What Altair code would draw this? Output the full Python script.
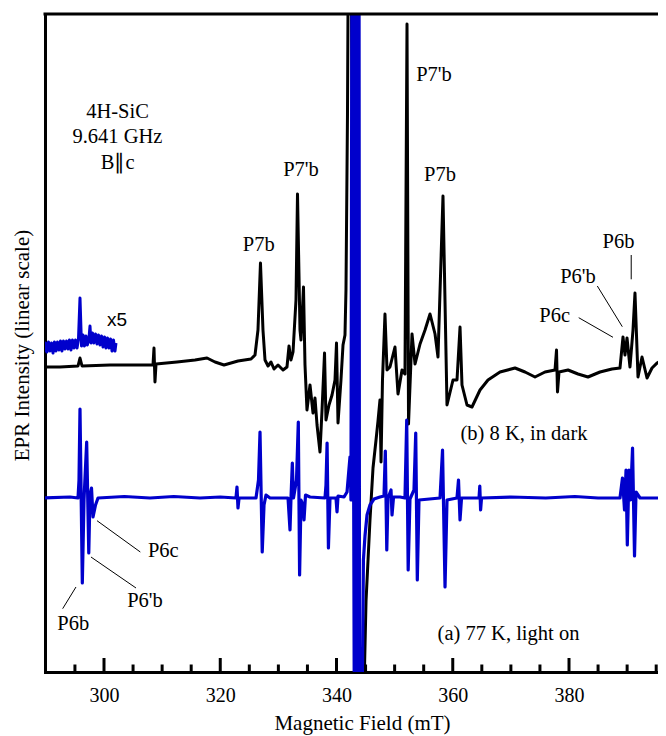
import altair as alt
import pandas as pd

W, H = 613, 658
X_DOMAIN = [289.85, 395.31]
Y_DOMAIN = [-17.4, 48.4]
BLUE = "#0000cc"
SERIF = "Liberation Serif"

# (b) 8 K, in dark  -- (field mT, intensity a.u.)
spectrum_b = [
    (289.68, 13.1), (292.43, 13.1), (295.53, 13.2), (295.87, 14.0), (296.22, 13.2),
    (301.03, 13.3), (306.19, 13.3), (308.43, 13.3), (308.60, 15.0), (308.77, 11.6),
    (308.95, 13.4), (312.56, 13.6), (315.66, 13.8), (317.72, 14.0), (319.10, 13.6),
    (320.65, 13.3), (323.05, 13.7), (325.29, 13.9), (325.98, 14.3), (326.49, 16.8),
    (326.92, 23.5), (327.35, 16.8), (327.70, 13.8), (328.22, 13.2), (328.73, 13.6),
    (329.25, 12.9), (329.94, 13.3), (330.80, 12.8), (331.48, 13.1), (331.83, 15.2),
    (332.17, 13.8), (332.52, 14.6), (333.03, 19.8), (333.29, 30.4), (333.72, 16.8),
    (333.89, 15.8), (334.32, 21.1), (334.58, 13.3), (334.92, 8.8), (335.44, 11.3),
    (335.96, 8.5), (336.30, 10.0), (336.65, 7.3), (337.16, 4.6), (337.51, 8.8),
    (337.94, 14.5), (338.19, 7.8), (338.71, 9.3), (339.23, 10.3), (339.74, 11.8),
    (340.00, 15.5), (340.26, 7.5), (340.77, 11.8), (341.12, 15.3), (341.46, 16.3),
    (341.63, 20.8), (341.89, 38.4), (342.24, 79.8), (343.70, -50.2), (344.73, -19.2),
    (345.08, -10.3), (345.76, -2.2), (346.28, 3.0), (346.80, 5.8), (347.14, 7.7),
    (347.48, 9.8), (347.66, 3.6), (347.91, 11.8), (348.34, 18.4), (348.69, 12.8),
    (349.20, 13.1), (350.06, 15.1), (350.58, 10.4), (351.27, 12.8), (351.78, 12.4),
    (352.13, 47.4), (352.39, 7.4), (352.99, 16.4), (353.51, 13.4), (354.37, 15.4),
    (355.23, 16.8), (356.09, 18.4), (356.95, 16.4), (357.46, 14.1), (358.32, 30.2),
    (359.01, 9.3), (360.04, 11.8), (360.73, 11.8), (361.25, 17.1), (361.59, 11.3),
    (362.45, 9.3), (363.31, 9.1), (364.69, 10.8), (366.06, 11.8), (368.13, 12.6),
    (370.71, 13.0), (372.43, 12.6), (374.15, 12.1), (375.87, 12.6), (377.59, 12.8),
    (377.85, 14.8), (378.02, 10.6), (378.28, 12.6), (379.83, 12.8), (381.55, 12.4),
    (383.27, 12.1), (385.33, 12.6), (387.40, 12.9), (388.77, 13.0), (389.29, 16.1),
    (389.63, 14.3), (389.98, 16.0), (390.49, 13.1), (391.01, 16.8), (391.35, 20.5),
    (391.87, 12.1), (392.56, 14.1), (393.42, 12.0), (394.28, 13.0), (395.14, 13.5),
    (396.00, 13.8),
]

# (a) 77 K, light on
spectrum_a = [
    (289.68, 0.0), (294.15, 0.1), (295.53, 0.0), (295.70, 1.8), (295.87, 8.9),
    (296.27, -8.5), (296.56, -0.2), (297.02, 5.6), (297.38, -5.5), (297.59, 0.3),
    (297.85, 1.0), (298.11, -1.9), (298.54, -0.7), (298.97, 0.0), (303.50, 0.15),
    (307.91, 0.0), (312.00, 0.15), (316.52, 0.0), (320.00, 0.1), (322.71, 0.0),
    (322.88, 1.1), (323.05, -1.0), (323.23, 0.0), (326.15, 0.0), (326.58, 1.8),
    (326.84, 6.6), (327.22, -5.4), (327.53, -0.7), (327.87, 0.3), (328.56, 0.0),
    (331.66, 0.0), (332.00, -3.2), (332.17, 0.0), (332.40, 3.5), (332.60, 0.0),
    (333.12, 1.8), (333.43, 7.6), (333.65, -7.7), (333.89, -0.2), (334.24, -0.7),
    (334.41, -2.2), (334.67, 0.3), (335.44, 0.1), (338.02, 0.0), (338.19, 1.3),
    (338.38, 5.5), (338.61, -5.0), (338.88, 0.0), (339.91, 0.0), (340.09, -1.4),
    (340.26, 0.2), (341.29, 0.1), (341.81, 0.6), (342.32, 4.1), (342.49, -0.2),
    (342.67, 60.0), (343.10, -30.0), (342.98, 60.0), (343.35, -30.0), (343.28, 60.0),
    (343.61, -30.0), (343.59, 60.0), (343.87, -30.0), (343.87, 60.0), (343.97, -30.0),
    (344.39, -30.0), (344.46, -18.2), (344.63, -6.2), (344.90, -3.8), (345.25, -1.7),
    (345.76, -0.7), (346.45, -0.1), (347.48, 0.1), (348.17, 0.2), (348.40, 4.7),
    (348.65, -5.2), (348.86, 0.0), (349.38, 0.8), (349.55, -1.7), (349.81, 0.1),
    (350.93, 0.1), (351.78, 0.0), (352.08, 7.8), (352.33, -7.2), (352.64, -0.1),
    (353.33, 0.8), (353.63, 6.5), (353.90, -8.2), (354.19, -0.2), (357.81, 0.0),
    (358.24, 4.8), (358.67, -8.9), (359.01, -0.2), (360.73, 0.0), (360.99, 1.8),
    (361.25, -2.2), (361.51, 0.0), (364.52, 0.0), (364.65, 1.2), (364.79, -1.2),
    (364.95, 0.0), (370.00, 0.1), (376.00, 0.0), (381.00, 0.15), (385.00, 0.0),
    (388.77, 0.0), (389.20, 2.0), (389.55, -1.2), (389.81, 2.8), (390.03, -4.7),
    (390.32, 2.8), (390.58, -0.2), (390.93, 5.0), (391.27, -5.8), (391.53, 0.6),
    (392.22, 0.0), (396.69, 0.0),
]

# (a) x5 enlargement of the low-field part
inset_x5 = [
    (289.68, 14.6), (289.94, 15.5), (290.19, 14.6), (290.45, 15.6), (290.71, 14.7),
    (290.97, 15.5), (291.23, 14.5), (291.48, 15.6), (291.74, 14.7), (292.00, 15.6),
    (292.26, 14.8), (292.52, 15.7), (292.77, 14.7), (293.03, 15.7), (293.29, 14.9),
    (293.55, 15.7), (293.81, 14.9), (294.06, 15.8), (294.32, 14.8), (294.58, 15.8),
    (294.84, 15.0), (295.10, 15.8), (295.36, 15.0), (295.61, 15.9), (295.87, 20.0),
    (296.13, 15.2), (296.39, 16.3), (296.63, 15.2), (296.90, 16.2), (297.14, 15.3),
    (297.42, 16.0), (297.59, 17.2), (297.76, 15.5), (298.02, 16.5), (298.26, 15.5),
    (298.54, 16.4), (298.80, 15.4), (299.05, 16.3), (299.31, 15.3), (299.57, 16.2),
    (299.83, 15.1), (300.09, 16.1), (300.34, 15.0), (300.60, 16.0), (300.86, 15.0),
    (301.12, 15.9), (301.38, 14.7), (301.63, 15.8), (301.89, 14.7), (302.06, 15.5),
]

# text annotations: (text, field, intensity)  -- centre / baseline
labels = [
    ("4H-SiC", 302.32, 37.97),
    ("9.641 GHz", 302.32, 35.47),
    ("B\u2225c", 302.36, 32.87),
    ("P7b", 326.62, 24.73),
    ("P7'b", 333.89, 32.23),
    ("P7'b", 356.77, 41.73),
    ("P7b", 357.81, 31.70),
    ("P6b", 388.52, 24.97),
    ("P6'b", 381.55, 21.47),
    ("P6c", 377.54, 17.63),
    ("P6c", 310.20, -5.93),
    ("P6'b", 307.05, -10.93),
    ("P6b", 294.72, -13.17),
    ("(b) 8 K, in dark", 372.26, 5.83),
    ("(a) 77 K, light on", 369.59, -14.17),
]
x5_label = [("x5", 300.52, 17.2)]

# leader lines: (field1, int1, field2, int2)
leaders = [
    (390.70, 24.30, 390.70, 21.87),
    (384.87, 21.20, 389.17, 17.13),
    (381.67, 18.03, 387.57, 16.07),
    (298.80, -2.27, 306.25, -5.40),
    (297.76, -5.90, 305.51, -9.00),
    (295.18, -8.90, 292.89, -11.07),
]

major_ticks = [300, 320, 340, 360, 380]
minor_ticks = [295, 305, 310, 315, 325, 330, 335, 345, 350, 355,
               365, 370, 375, 385, 390, 395]


def line_df(pairs):
    return pd.DataFrame({
        "i": list(range(len(pairs))),
        "field": [p[0] for p in pairs],
        "intensity": [p[1] for p in pairs],
    })


xs = alt.Scale(domain=X_DOMAIN, nice=False, zero=False)
ys = alt.Scale(domain=Y_DOMAIN, nice=False, zero=False)

x_axis = alt.Axis(
    values=major_ticks, ticks=False, grid=False, format="d",
    domainWidth=3, domainColor="black", domainCap="square",
    labelFont=SERIF, labelFontSize=20, labelColor="black", labelPadding=13,
    title="Magnetic Field (mT)", titleFont=SERIF, titleFontSize=21,
    titleFontWeight="normal", titleColor="black",
    titleX=317, titleY=57, titleBaseline="alphabetic", titleAlign="center",
)
y_axis = alt.Axis(
    ticks=False, labels=False, grid=False,
    domainWidth=3, domainColor="black", domainCap="square",
    title="EPR Intensity (linear scale)", titleFont=SERIF, titleFontSize=21,
    titleFontWeight="normal", titleColor="black",
    titleX=-17, titleY=331, titleAngle=270, titleBaseline="alphabetic",
    titleAlign="center",
)

X = alt.X("field:Q", scale=xs, axis=x_axis, title="Magnetic Field (mT)")
Y = alt.Y("intensity:Q", scale=ys, axis=y_axis, title="EPR Intensity (linear scale)")

black = alt.Chart(line_df(spectrum_b)).mark_line(
    color="black", strokeWidth=3, clip=True, strokeJoin="round"
).encode(x=X, y=Y, order="i:Q")

blue = alt.Chart(line_df(spectrum_a)).mark_line(
    color=BLUE, strokeWidth=3.2, clip=True, strokeJoin="round"
).encode(x=X, y=Y, order="i:Q")

inset = alt.Chart(line_df(inset_x5)).mark_line(
    color=BLUE, strokeWidth=3, clip=True, strokeJoin="round"
).encode(x=X, y=Y, order="i:Q")

n_t = len(major_ticks) + len(minor_ticks)
tick_df = pd.DataFrame({
    "field": major_ticks + minor_ticks,
    "intensity": [Y_DOMAIN[0]] * n_t,
    "intensity2": [Y_DOMAIN[0] + 1.4] * len(major_ticks) + [Y_DOMAIN[0] + 0.75] * len(minor_ticks),
})
ticks = alt.Chart(tick_df).mark_rule(color="black", strokeWidth=3).encode(
    x=X, y=Y, y2="intensity2:Q",
)

lead_df = pd.DataFrame(leaders, columns=["field", "intensity", "field2", "intensity2"])
lead = alt.Chart(lead_df).mark_rule(color="black", strokeWidth=1).encode(
    x=X, y=Y, x2="field2:Q", y2="intensity2:Q",
)

lab_df = pd.DataFrame(labels, columns=["text", "field", "intensity"])
texts = alt.Chart(lab_df).mark_text(
    font=SERIF, fontSize=20.5, align="center", baseline="alphabetic", color="black"
).encode(x=X, y=Y, text="text:N")

x5_df = pd.DataFrame(x5_label, columns=["text", "field", "intensity"])
x5 = alt.Chart(x5_df).mark_text(
    font="Liberation Sans", fontSize=19, align="left", baseline="alphabetic", color="black"
).encode(x=X, y=Y, text="text:N")

border = alt.Chart(pd.DataFrame({"k": [0]})).mark_rule(
    color="black", strokeWidth=3, strokeCap="square"
).encode(x=alt.value(0), x2=alt.value(W), y=alt.value(0))

chart = alt.layer(
    black, blue, inset, ticks, lead, texts, x5, border
).properties(
    width=W, height=H,
    padding={"left": 37, "top": 6, "right": 0, "bottom": 63},
    autosize=alt.AutoSizeParams(type="none"),
).configure_view(strokeWidth=0)

chart.save("out.html", embed_options={"renderer": "svg", "actions": False})
